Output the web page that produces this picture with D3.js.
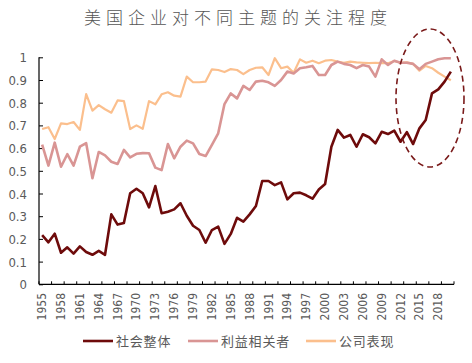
<!DOCTYPE html>
<html><head><meta charset="utf-8">
<script src="https://cdn.jsdelivr.net/npm/d3@7"></script>
<style>
html,body{margin:0;padding:0;background:#fff;}
svg{display:block;}
</style></head>
<body>
<svg id="c" width="472" height="363"></svg>
<script>
const title = "美国企业对不同主题的关注程度";
const years = d3.range(1955, 2021);
const seriesNames = ["社会整体", "利益相关者", "公司表现"];
const society = [0.217,0.185,0.223,0.139,0.163,0.135,0.167,0.142,0.130,0.147,0.130,0.308,0.263,0.270,0.401,0.421,0.401,0.339,0.433,0.313,0.320,0.330,0.357,0.302,0.258,0.239,0.183,0.239,0.254,0.178,0.222,0.293,0.276,0.308,0.345,0.455,0.455,0.437,0.449,0.374,0.401,0.404,0.392,0.377,0.418,0.442,0.606,0.680,0.646,0.658,0.606,0.661,0.648,0.621,0.672,0.662,0.677,0.628,0.670,0.618,0.687,0.724,0.841,0.859,0.893,0.937];
const stakeholders = [0.615,0.523,0.624,0.518,0.573,0.523,0.606,0.622,0.467,0.583,0.568,0.540,0.530,0.592,0.559,0.575,0.578,0.577,0.514,0.503,0.618,0.555,0.606,0.633,0.621,0.574,0.565,0.614,0.665,0.794,0.841,0.819,0.874,0.856,0.893,0.897,0.890,0.874,0.900,0.937,0.929,0.952,0.956,0.962,0.922,0.922,0.966,0.981,0.971,0.966,0.952,0.966,0.959,0.915,0.991,0.966,0.985,0.976,0.976,0.971,0.947,0.971,0.981,0.991,0.996,0.996];
const performance = [0.684,0.692,0.640,0.709,0.706,0.715,0.680,0.838,0.765,0.789,0.771,0.756,0.810,0.807,0.684,0.700,0.685,0.807,0.793,0.837,0.846,0.831,0.827,0.915,0.890,0.890,0.893,0.947,0.944,0.935,0.948,0.944,0.926,0.944,0.954,0.956,0.922,0.996,0.952,0.959,0.932,0.991,0.976,0.985,0.974,0.985,0.988,0.981,0.976,0.981,0.978,0.976,0.974,0.976,0.974,0.974,0.984,0.976,0.978,0.971,0.941,0.962,0.952,0.932,0.915,0.899];
const yTicks = [0,0.1,0.2,0.3,0.4,0.5,0.6,0.7,0.8,0.9,1];
const yTickLabels = ["0","0.1","0.2","0.3","0.4","0.5","0.6","0.7","0.8","0.9","1"];
const xLabelYears = d3.range(1955, 2019, 3);
const colors = ["#6e0b0b", "#d99594", "#fbbf8d"];
const widths = [2.6, 2.6, 2.2];

const svg = d3.select("#c");
const x = d3.scaleBand().domain(years).range([39, 454]).padding(0);
const y = d3.scaleLinear().domain([0, 1]).range([284.3, 57.3]);
const bw = x.bandwidth();
const cx = yr => x(yr) + bw / 2;
const textCol = "#5a5a5a";
const numFont = "'DejaVu Sans Condensed', 'Liberation Sans Narrow', sans-serif";

// Title
svg.append("text").attr("x", 238).attr("y", 24).attr("text-anchor", "middle")
  .attr("font-family", "'Noto Sans CJK SC', sans-serif").attr("font-size", 17)
  .attr("font-weight", 300)
  .attr("letter-spacing", 5).attr("fill", "#555").text(title);

// Y axis
const yAxis = d3.axisRight(y).tickValues(yTicks).tickSize(4)
  .tickFormat((d, i) => "");
const gy = svg.append("g").attr("transform", "translate(39,0)").call(yAxis);
gy.select(".domain").attr("stroke", "#000").attr("stroke-width", 1.2).attr("d", `M0,${y(1)}V${y(0)}`);
gy.selectAll(".tick line").attr("stroke", "#000").attr("stroke-width", 1);
svg.append("g").selectAll("text").data(yTicks).join("text")
  .attr("x", 27).attr("y", d => y(d) + 5).attr("text-anchor", "end")
  .attr("font-family", numFont).attr("font-size", 13).attr("fill", textCol)
  .text((d, i) => yTickLabels[i]);

// X axis
const xTickYears = years.filter((d, i) => i % 2 === 0);
const gx = svg.append("g");
gx.append("line").attr("x1", 39).attr("x2", 454).attr("y1", y(0)).attr("y2", y(0))
  .attr("stroke", "#000").attr("stroke-width", 1.2);
gx.selectAll("line.tk").data(xTickYears.concat([null])).join("line").attr("class", "tk")
  .attr("x1", d => d === null ? 454 : x(d)).attr("x2", d => d === null ? 454 : x(d))
  .attr("y1", y(0)).attr("y2", y(0) - 3).attr("stroke", "#000").attr("stroke-width", 1);
gx.selectAll("text").data(xLabelYears).join("text")
  .attr("transform", d => `translate(${cx(d) + 4},293) rotate(-90)`)
  .attr("text-anchor", "end").attr("font-family", numFont).attr("font-size", 12)
  .attr("fill", textCol).text(d => d);

// Lines (draw orange first, then pink, then dark red on top)
const allSeries = [society, stakeholders, performance];
const line = d3.line().x((d, i) => cx(years[i])).y(d => y(d));
[2, 1, 0].forEach(k => {
  svg.append("path").datum(allSeries[k]).attr("d", line).attr("fill", "none")
    .attr("stroke", colors[k]).attr("stroke-width", widths[k])
    .attr("stroke-linejoin", "round").attr("stroke-linecap", "butt");
});

// Dashed ellipse annotation
svg.append("ellipse").attr("cx", 430).attr("cy", 98).attr("rx", 34).attr("ry", 69)
  .attr("fill", "none").attr("stroke", "#7a1a1a").attr("stroke-width", 1.6)
  .attr("stroke-dasharray", "6,4");

// Legend
const legX = [83, 188, 306];
const lg = svg.append("g");
seriesNames.forEach((n, k) => {
  lg.append("line").attr("x1", legX[k]).attr("x2", legX[k] + 30).attr("y1", 341).attr("y2", 341)
    .attr("stroke", colors[k]).attr("stroke-width", 2.6);
  lg.append("text").attr("x", legX[k] + 33).attr("y", 346)
    .attr("font-family", "'Noto Sans CJK SC', sans-serif").attr("font-size", 13)
    .attr("letter-spacing", 0.8).attr("fill", textCol).text(n);
});
</script>
</body></html>
